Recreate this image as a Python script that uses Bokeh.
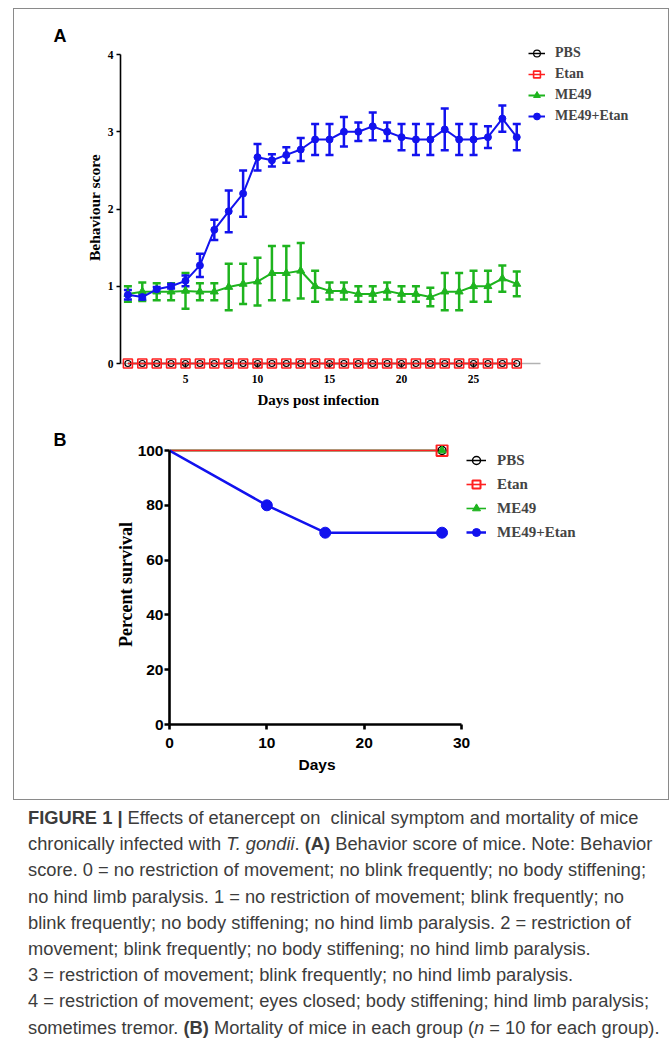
from bokeh.plotting import figure
from bokeh.models import (ColumnDataSource, Whisker, TeeHead, Legend, LegendItem,
                          Title, Div, Spacer, FixedTicker, BoxAnnotation)
from bokeh.layouts import column, row
from bokeh.embed import file_html
from bokeh.resources import INLINE

# ---------------- Panel A data (behaviour score) ----------------
days_a = [1, 2, 3, 4, 5, 6, 7, 8, 9, 10, 11, 12, 13, 14,
          15, 16, 17, 18, 19, 20, 21, 22, 23, 24, 25, 26, 27, 28]
pbs_a = [0, 0, 0, 0, 0, 0, 0, 0, 0, 0, 0, 0, 0, 0,
         0, 0, 0, 0, 0, 0, 0, 0, 0, 0, 0, 0, 0, 0]
etan_a = [0, 0, 0, 0, 0, 0, 0, 0, 0, 0, 0, 0, 0, 0,
          0, 0, 0, 0, 0, 0, 0, 0, 0, 0, 0, 0, 0, 0]
me49_a = [0.90, 0.93, 0.93, 0.93, 0.94, 0.93, 0.93, 0.99, 1.03, 1.06, 1.17, 1.17, 1.20, 1.00,
          0.94, 0.94, 0.90, 0.90, 0.94, 0.90, 0.90, 0.86, 0.93, 0.93, 1.00, 1.00, 1.10, 1.03]
me49_a_err = [0.10, 0.12, 0.11, 0.11, 0.23, 0.11, 0.11, 0.30, 0.26, 0.31, 0.35, 0.35, 0.36, 0.20,
              0.11, 0.11, 0.10, 0.10, 0.11, 0.10, 0.10, 0.12, 0.24, 0.24, 0.20, 0.20, 0.17, 0.16]
combo_a = [0.89, 0.86, 0.96, 1.00, 1.07, 1.27, 1.73, 1.97, 2.20, 2.67, 2.63, 2.70, 2.77, 2.90,
           2.90, 3.00, 3.00, 3.07, 3.00, 2.93, 2.90, 2.90, 3.03, 2.90, 2.90, 2.93, 3.17, 2.93]
combo_a_err = [0.06, 0.03, 0.03, 0.03, 0.07, 0.15, 0.13, 0.27, 0.30, 0.17, 0.08, 0.10, 0.15, 0.20,
               0.20, 0.19, 0.12, 0.18, 0.12, 0.17, 0.20, 0.20, 0.27, 0.20, 0.20, 0.14, 0.17, 0.17]
x_ticks_a = [5, 10, 15, 20, 25]
y_ticks_a = [0, 1, 2, 3, 4]

# ---------------- Panel B data (survival) ----------------
surv_days_pbs = [0, 28]
surv_pbs = [100, 100]
surv_days_etan = [0, 28]
surv_etan = [100, 100]
surv_days_me49 = [0, 28]
surv_me49 = [100, 100]
surv_days_combo = [0, 10, 16, 28]
surv_combo = [100, 80, 70, 70]
x_ticks_b = [0, 10, 20, 30]
y_ticks_b = [0, 20, 40, 60, 80, 100]

labels = ["PBS", "Etan", "ME49", "ME49+Etan"]

BLACK = "#000000"
RED = "#FF2020"
GREEN = "#1EB41E"
BLUE = "#1212EE"
SERIF = "Liberation Serif"
SANS = "Liberation Sans"
BORDER = "1px solid #8a8a8a"

# axis extents (axis A spans a little beyond the data days, as in the figure)
XA_LO, XA_HI = 0.486, 29.65


def style_axes(p, lw, tick_out, font, size, style):
    for ax in (p.xaxis, p.yaxis):
        ax.axis_line_width = lw
        ax.axis_line_color = BLACK
        ax.major_tick_line_width = lw
        ax.major_tick_line_color = BLACK
        ax.major_tick_out = tick_out
        ax.major_tick_in = 0
        ax.minor_tick_out = 0
        ax.minor_tick_in = 0
        ax.major_label_text_font = font
        ax.major_label_text_font_size = size
        ax.major_label_text_font_style = style
        ax.major_label_text_color = BLACK
        ax.axis_label_text_color = BLACK


def panel_title(t, offset, standoff, font, size):
    t.align = "left"
    t.offset = offset
    t.standoff = standoff
    t.text_font = font
    t.text_font_size = size
    t.text_font_style = "bold"
    t.text_color = BLACK


# ================= Panel A =================
p1 = figure(width=654, height=410, x_range=(XA_LO, 36.94), y_range=(-0.10356, 4.1424),
            title="A", output_backend="svg", toolbar_location=None,
            min_border_left=106, min_border_right=23, min_border_top=34, min_border_bottom=48)
p1.grid.visible = False
p1.outline_line_color = None
p1.background_fill_color = "white"
p1.border_fill_color = "white"
panel_title(p1.title, -67, -4, SANS, "18px")
p1.title.vertical_align = "bottom"

style_axes(p1, 1.6, 4, SERIF, "11.5px", "bold")
p1.xaxis.ticker = FixedTicker(ticks=x_ticks_a, minor_ticks=[])
p1.yaxis.ticker = FixedTicker(ticks=y_ticks_a, minor_ticks=[])
p1.yaxis.bounds = (0, 4)
p1.yaxis.major_label_standoff = 3
p1.yaxis.axis_label = "Behaviour score"
p1.yaxis.axis_label_text_font = SERIF
p1.yaxis.axis_label_text_font_style = "bold"
p1.yaxis.axis_label_text_font_size = "15.5px"
p1.yaxis.axis_label_standoff = 2
# x axis sits at score 0: its ticks hang below the zero line
p1.xaxis.axis_line_color = None
p1.xaxis.major_tick_in = 8
p1.xaxis.major_tick_out = -4
p1.xaxis.major_label_standoff = 3
p1.add_layout(BoxAnnotation(left=XA_LO, right=XA_HI, bottom=0, top=0, fill_alpha=0,
                            line_color=BLACK, line_width=1.6, level="underlay"))
xlabA = Title(text="Days post infection", vertical_align="top")
panel_title(xlabA, 137, 12, SERIF, "15px")
p1.add_layout(xlabA, "below")

srcA = ColumnDataSource(dict(
    x=days_a, pbs=pbs_a, etan=etan_a, me49=me49_a, combo=combo_a,
    me49_lo=[m - e for m, e in zip(me49_a, me49_a_err)],
    me49_hi=[m + e for m, e in zip(me49_a, me49_a_err)],
    combo_lo=[m - e for m, e in zip(combo_a, combo_a_err)],
    combo_hi=[m + e for m, e in zip(combo_a, combo_a_err)],
))

lA_pbs = p1.line("x", "pbs", source=srcA, line_color=BLACK, line_width=1.5)
sA_pbs = p1.scatter("x", "pbs", source=srcA, marker="circle", size=6,
                    line_color=BLACK, fill_color=None, line_width=1.2)
lA_etan = p1.line("x", "etan", source=srcA, line_color=RED, line_width=1.5)
sA_etan = p1.scatter("x", "etan", source=srcA, marker="square", size=9,
                     line_color=RED, fill_color=None, line_width=1.6)
lA_me49 = p1.line("x", "me49", source=srcA, line_color=GREEN, line_width=2)
sA_me49 = p1.scatter("x", "me49", source=srcA, marker="triangle", size=8,
                     line_color=GREEN, fill_color=GREEN)
lA_combo = p1.line("x", "combo", source=srcA, line_color=BLUE, line_width=2)
sA_combo = p1.scatter("x", "combo", source=srcA, marker="circle", size=7,
                      line_color=BLUE, fill_color=BLUE)

for lo, hi, col in (("me49_lo", "me49_hi", GREEN), ("combo_lo", "combo_hi", BLUE)):
    w = Whisker(source=srcA, base="x", lower=lo, upper=hi, line_color=col, line_width=2.5,
                upper_head=TeeHead(size=8, line_color=col, line_width=2.5),
                lower_head=TeeHead(size=8, line_color=col, line_width=2.5))
    p1.add_layout(w)

legA = Legend(items=[
    LegendItem(label=labels[0], renderers=[lA_pbs, sA_pbs]),
    LegendItem(label=labels[1], renderers=[lA_etan, sA_etan]),
    LegendItem(label=labels[2], renderers=[lA_me49, sA_me49]),
    LegendItem(label=labels[3], renderers=[lA_combo, sA_combo]),
], location=(408, 245), glyph_width=17, glyph_height=20, label_height=20,
    label_standoff=10, spacing=1, padding=0, margin=0,
    border_line_color=None, background_fill_alpha=0,
    label_text_font=SERIF, label_text_font_style="bold", label_text_font_size="14px")
p1.add_layout(legA)

# ================= Panel B =================
p2 = figure(width=654, height=380, x_range=(0, 48.9), y_range=(0, 102.19),
            title="B", output_backend="svg", toolbar_location=None,
            min_border_left=155, min_border_right=23, min_border_top=25, min_border_bottom=75)
p2.grid.visible = False
p2.outline_line_color = None
p2.background_fill_color = "white"
p2.border_fill_color = "white"
panel_title(p2.title, -116, -10, SANS, "18px")
p2.title.vertical_align = "bottom"

style_axes(p2, 2.6, 5, SANS, "15.5px", "bold")
p2.xaxis.ticker = FixedTicker(ticks=x_ticks_b, minor_ticks=[])
p2.yaxis.ticker = FixedTicker(ticks=y_ticks_b, minor_ticks=[])
p2.xaxis.bounds = (0, 30)
p2.yaxis.bounds = (0, 100)
p2.xaxis.major_label_standoff = 8
p2.yaxis.major_label_standoff = 1
p2.yaxis.axis_label = "Percent survival"
p2.yaxis.axis_label_text_font = SERIF
p2.yaxis.axis_label_text_font_style = "bold"
p2.yaxis.axis_label_text_font_size = "18px"
p2.yaxis.axis_label_standoff = -1
xlabB = Title(text="Days", vertical_align="top")
panel_title(xlabB, 129, 10, SANS, "15.5px")
p2.add_layout(xlabB, "below")

series_b = [
    (surv_days_pbs, surv_pbs, BLACK, "circle", 8, None, 1.5, 1.5),
    (surv_days_etan, surv_etan, RED, "square", 11, None, 1.6, 2.0),
    (surv_days_me49, surv_me49, GREEN, "triangle", 8, GREEN, 1.6, 1.0),
    (surv_days_combo, surv_combo, BLUE, "circle", 11, BLUE, 2.5, 1.0),
]
line_order = [0, 2, 1, 3]
line_r = {}
for i in line_order:
    dx, dy, col, mk, sz, fill, lw, mlw = series_b[i]
    line_r[i] = p2.line(dx, dy, line_color=col, line_width=lw)
itemsB = []
for i, lab in enumerate(labels):
    dx, dy, col, mk, sz, fill, lw, mlw = series_b[i]
    sr = p2.scatter(dx[1:], dy[1:], marker=mk, size=sz, line_color=col,
                    fill_color=fill, line_width=mlw)
    itemsB.append(LegendItem(label=lab, renderers=[line_r[i], sr]))

legB = Legend(items=itemsB, location=(297, 180), glyph_width=20, glyph_height=24,
              label_height=24, label_standoff=11, spacing=0, padding=0, margin=0,
              border_line_color=None, background_fill_alpha=0,
              label_text_font=SERIF, label_text_font_style="bold", label_text_font_size="15px")
p2.add_layout(legB)

# ================= Caption =================
caption_lines = [
    "<b>FIGURE 1 |</b> Effects of etanercept on&nbsp; clinical symptom and mortality of mice",
    "chronically infected with <i>T. gondii</i>. <b>(A)</b> Behavior score of mice. Note: Behavior",
    "score. 0 = no restriction of movement; no blink frequently; no body stiffening;",
    "no hind limb paralysis. 1 = no restriction of movement; blink frequently; no",
    "blink frequently; no body stiffening; no hind limb paralysis. 2 = restriction of",
    "movement; blink frequently; no body stiffening; no hind limb paralysis.",
    "3 = restriction of movement; blink frequently; no hind limb paralysis.",
    "4 = restriction of movement; eyes closed; body stiffening; hind limb paralysis;",
    "sometimes tremor. <b>(B)</b> Mortality of mice in each group (<i>n</i> = 10 for each group).",
]
html = ('<div style="font-family:\'Liberation Sans\',sans-serif; font-size:18.3px; '
        'line-height:26.2px; color:#3c3c3c; margin-left:23px; margin-top:0px; '
        'white-space:nowrap;">' + "<br>".join(caption_lines) + "</div>")
cap = Div(text=html, width=650, height=236)

top_box = column(p1, styles={"border": BORDER, "border-bottom": "none"})
bot_box = column(p2, styles={"border": BORDER, "border-top": "none"})
root1 = column(Spacer(width=1, height=8), row(Spacer(width=13, height=1), top_box))
root2 = row(Spacer(width=13, height=1), bot_box)

open("out.html", "w").write(file_html([root1, root2, cap], INLINE))
